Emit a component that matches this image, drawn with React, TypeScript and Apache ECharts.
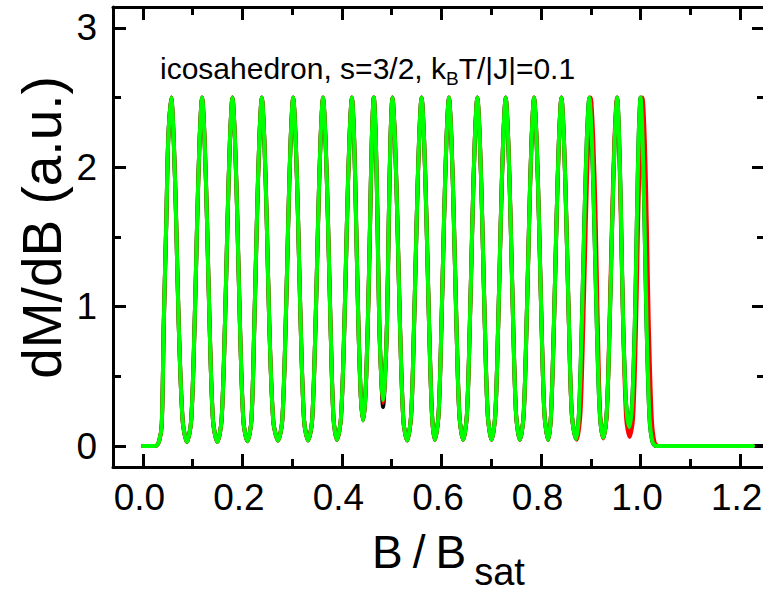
import React, { useEffect, useRef } from 'react';
import * as echarts from 'echarts';

const X_MIN = -0.06;
const X_MAX = 1.25;
const Y_MIN = -0.15;
const Y_MAX = 3.15;

const xMajorTicks = [0, 0.2, 0.4, 0.6, 0.8, 1.0, 1.2];
const xMinorTicks = [0.1, 0.3, 0.5, 0.7, 0.9, 1.1];
const yMajorTicks = [0, 1, 2, 3];
const yMinorTicks = [0.5, 1.5, 2.5];

// B/Bsat , dM/dB
const sharedStart = [
  [0.000, 0.00], [0.025, 0.00], [0.033, 0.04], [0.038, 0.16], [0.042, 0.88], [0.047, 1.60], [0.051, 2.20], [0.057, 2.50], [0.062, 2.20], [0.067, 1.60], [0.072, 0.88], [0.080, 0.18], [0.0885, 0.03],
  [0.097, 0.18], [0.104, 0.88], [0.109, 1.60], [0.114, 2.20], [0.119, 2.50], [0.124, 2.20], [0.129, 1.60], [0.134, 0.88], [0.141, 0.18], [0.1496, 0.03],
  [0.158, 0.18], [0.165, 0.88], [0.170, 1.60], [0.175, 2.20], [0.180, 2.50], [0.185, 2.20], [0.190, 1.60], [0.195, 0.88], [0.202, 0.18], [0.210, 0.035],
  [0.218, 0.18], [0.224, 0.88], [0.229, 1.60], [0.234, 2.20], [0.239, 2.50], [0.244, 2.20], [0.249, 1.60], [0.254, 0.88], [0.262, 0.18], [0.2715, 0.04],
  [0.280, 0.18], [0.287, 0.88], [0.292, 1.60], [0.297, 2.20], [0.302, 2.50], [0.307, 2.20], [0.312, 1.60], [0.317, 0.88], [0.324, 0.18], [0.332, 0.04],
  [0.340, 0.18], [0.347, 0.88], [0.352, 1.60], [0.357, 2.20], [0.362, 2.50], [0.367, 2.20], [0.372, 1.60], [0.377, 0.88], [0.383, 0.20], [0.390, 0.045],
  [0.398, 0.20], [0.405, 0.88], [0.410, 1.60], [0.415, 2.20], [0.420, 2.50], [0.4245, 2.20], [0.4285, 1.60], [0.433, 0.88], [0.438, 0.35], [0.4424, 0.185],
  [0.447, 0.35], [0.452, 0.88], [0.4565, 1.60], [0.460, 2.20], [0.464, 2.50], [0.468, 2.20], [0.4715, 1.60], [0.475, 0.88], [0.4795, 0.45],
];

const dipBlack = [[0.4826, 0.28]];
const dipRed = [[0.4826, 0.31]];
const dipGreen = [[0.4826, 0.33]];

const sharedMiddle = [
  [0.486, 0.45], [0.4905, 0.88], [0.494, 1.60], [0.4975, 2.20], [0.5015, 2.50], [0.5065, 2.20], [0.5115, 1.60], [0.5165, 0.88], [0.5235, 0.18], [0.531, 0.04],
  [0.539, 0.22], [0.545, 0.88], [0.550, 1.60], [0.555, 2.20], [0.560, 2.50], [0.565, 2.20], [0.570, 1.60], [0.575, 0.88], [0.581, 0.22], [0.5866, 0.045],
  [0.594, 0.22], [0.600, 0.88], [0.605, 1.60], [0.610, 2.20], [0.615, 2.50], [0.620, 2.20], [0.625, 1.60], [0.630, 0.88], [0.636, 0.22], [0.6435, 0.045],
  [0.651, 0.22], [0.657, 0.88], [0.662, 1.60], [0.667, 2.20], [0.672, 2.50], [0.677, 2.20], [0.682, 1.60], [0.687, 0.88], [0.693, 0.22], [0.7006, 0.045],
  [0.708, 0.22], [0.714, 0.88], [0.719, 1.60], [0.724, 2.20], [0.729, 2.50], [0.734, 2.20], [0.739, 1.60], [0.744, 0.88], [0.750, 0.22], [0.7575, 0.045],
  [0.765, 0.22], [0.771, 0.88], [0.776, 1.60], [0.781, 2.20], [0.786, 2.50], [0.791, 2.20], [0.796, 1.60], [0.801, 0.88], [0.807, 0.22], [0.8144, 0.045],
  [0.820, 0.22], [0.826, 0.88], [0.831, 1.60], [0.836, 2.20], [0.841, 2.50], [0.846, 2.20], [0.851, 1.60], [0.856, 0.88], [0.862, 0.22],
];

const greenTail = [
  [0.8701, 0.05],
  [0.876, 0.22], [0.882, 0.88], [0.887, 1.60], [0.892, 2.20], [0.897, 2.50], [0.902, 2.20], [0.907, 1.60], [0.912, 0.88], [0.918, 0.24], [0.925, 0.06],
  [0.932, 0.24], [0.938, 0.88], [0.943, 1.60], [0.948, 2.20], [0.953, 2.50], [0.957, 2.20], [0.961, 1.60], [0.965, 0.88], [0.971, 0.30], [0.9773, 0.137],
  [0.983, 0.30], [0.9885, 0.88], [0.9925, 1.60], [0.996, 2.20], [1.000, 2.50], [1.004, 2.20], [1.008, 1.60], [1.012, 0.88], [1.018, 0.20], [1.024, 0.03], [1.032, 0.00], [1.226, 0.00],
];

const redTail = [
  [0.8715, 0.045],
  [0.879, 0.22], [0.885, 0.88], [0.890, 1.60], [0.895, 2.20], [0.900, 2.50], [0.905, 2.20], [0.910, 1.60], [0.914, 0.88], [0.919, 0.22], [0.925, 0.055],
  [0.932, 0.22], [0.9375, 0.88], [0.9425, 1.60], [0.9475, 2.20], [0.9525, 2.50], [0.9565, 2.20], [0.9605, 1.60], [0.965, 0.88], [0.971, 0.20], [0.978, 0.065],
  [0.985, 0.20], [0.991, 0.88], [0.995, 1.60], [0.9995, 2.20], [1.004, 2.50], [1.0085, 2.20], [1.0125, 1.60], [1.0165, 0.88], [1.0225, 0.20], [1.028, 0.03], [1.036, 0.00], [1.226, 0.00],
];

const blackEnd = [[1.25, 0.0]];

const blackData = [...sharedStart, ...dipBlack, ...sharedMiddle, ...greenTail, ...blackEnd];
const redData = [...sharedStart, ...dipRed, ...sharedMiddle, ...redTail];
const greenData = [...sharedStart, ...dipGreen, ...sharedMiddle, ...greenTail];

const FONT = "'Liberation Sans', Arial, Helvetica, sans-serif";
const AXIS_LINE = { color: '#000', width: 3 };

function makeX(position: string, ticks: number[], len: number, label: boolean, line: boolean) {
  return {
    type: 'value',
    min: X_MIN,
    max: X_MAX,
    position,
    axisLine: { show: line, onZero: false, lineStyle: AXIS_LINE },
    axisTick: { show: true, inside: true, length: len, customValues: ticks, lineStyle: { color: '#000', width: 3 } },
    axisLabel: label
      ? {
          show: true,
          customValues: ticks,
          formatter: (v: number) => v.toFixed(1),
          color: '#000',
          fontFamily: FONT,
          fontSize: 37,
          margin: 12,
          padding: [0, 7, 0, 0],
        }
      : { show: false },
    splitLine: { show: false },
    minorTick: { show: false },
  };
}

function makeY(position: string, ticks: number[], len: number, label: boolean, line: boolean) {
  return {
    type: 'value',
    min: Y_MIN,
    max: Y_MAX,
    position,
    axisLine: { show: line, onZero: false, lineStyle: AXIS_LINE },
    axisTick: { show: true, inside: true, length: len, customValues: ticks, lineStyle: { color: '#000', width: 3 } },
    axisLabel: label
      ? {
          show: true,
          customValues: ticks,
          formatter: (v: number) => String(v),
          color: '#000',
          fontFamily: FONT,
          fontSize: 37,
          margin: 16,
        }
      : { show: false },
    splitLine: { show: false },
    minorTick: { show: false },
  };
}

function lineSeries(name: string, data: number[][], color: string, z: number) {
  return {
    name,
    type: 'line',
    xAxisIndex: 0,
    yAxisIndex: 0,
    data,
    showSymbol: false,
    symbol: 'none',
    smooth: 0.3,
    clip: true,
    silent: true,
    z,
    lineStyle: { color, width: 4, join: 'round', cap: 'round' },
    itemStyle: { color },
  };
}

export default function App() {
  const ref = useRef<HTMLDivElement>(null);

  useEffect(() => {
    document.documentElement.style.overflow = 'hidden';
    document.body.style.overflow = 'hidden';
    if (!ref.current) return;
    const chart = echarts.init(ref.current, undefined, { renderer: 'svg' });
    const option: any = {
      animation: false,
      backgroundColor: '#fff',
      grid: { left: 113, top: 7, right: 15, bottom: 125, outerBoundsMode: 'none' },
      xAxis: [
        makeX('bottom', xMajorTicks, 13, true, true),
        makeX('bottom', xMinorTicks, 8, false, false),
        makeX('top', xMajorTicks, 13, false, true),
        makeX('top', xMinorTicks, 8, false, false),
      ],
      yAxis: [
        makeY('left', yMajorTicks, 13, true, true),
        makeY('left', yMinorTicks, 8, false, false),
        makeY('right', yMajorTicks, 13, false, true),
        makeY('right', yMinorTicks, 8, false, false),
      ],
      series: [
        lineSeries('black', blackData, '#000000', 2),
        lineSeries('red', redData, '#ff0000', 3),
        lineSeries('green', greenData, '#00ff00', 4),
      ],
      graphic: [
        {
          type: 'text',
          x: 160,
          y: 53,
          silent: true,
          style: {
            text: '{m|icosahedron, s=3/2, k}{s|B}{m|T/|J|=0.1}',
            align: 'left',
            verticalAlign: 'top',
            fill: '#000',
            rich: {
              m: { fontFamily: FONT, fontSize: 30, lineHeight: 30, fill: '#000', verticalAlign: 'top' },
              s: { fontFamily: FONT, fontSize: 19, lineHeight: 19, fill: '#000', verticalAlign: 'top', padding: [16, 0, 0, 0] },
            },
          },
        },
        {
          type: 'text',
          x: 372,
          y: 529,
          silent: true,
          style: {
            text: '{b|B}{sl|/}{b|B}{s|sat}',
            align: 'left',
            verticalAlign: 'top',
            fill: '#000',
            rich: {
              b: { fontFamily: FONT, fontSize: 46, lineHeight: 46, fill: '#000', verticalAlign: 'top' },
              sl: { fontFamily: FONT, fontSize: 46, lineHeight: 46, fill: '#000', verticalAlign: 'top', padding: [0, 10, 0, 10] },
              s: { fontFamily: FONT, fontSize: 38, lineHeight: 26, fill: '#000', verticalAlign: 'top', padding: [24, 0, 0, 8] },
            },
          },
        },
        {
          type: 'text',
          x: 42,
          y: 227.5,
          rotation: Math.PI / 2,
          silent: true,
          style: {
            text: 'dM/dB (a.u.)',
            fontFamily: FONT,
            fontSize: 55,
            fill: '#000',
            align: 'center',
            verticalAlign: 'middle',
          },
        },
      ],
    };
    chart.setOption(option);
    return () => chart.dispose();
  }, []);

  return (
    <div
      ref={ref}
      style={{ position: 'fixed', left: 0, top: 0, width: 780, height: 592, background: '#fff' }}
    />
  );
}
